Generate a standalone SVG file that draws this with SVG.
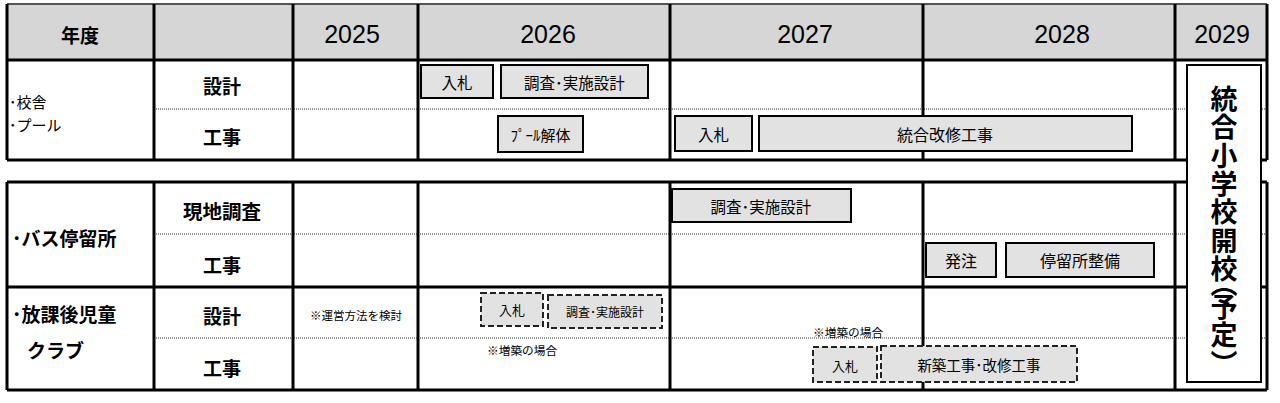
<svg xmlns="http://www.w3.org/2000/svg" width="1280" height="403" viewBox="0 0 1280 403">
<style>
.jp{font-family:"Noto Sans CJK JP","Noto Sans",sans-serif;fill:#000;dominant-baseline:central}
.num{font-family:"Liberation Sans",Arial,sans-serif;font-size:25px;fill:#000;text-anchor:middle;dominant-baseline:central}
.b{font-weight:700}
.c{text-anchor:middle}
.thick{stroke:#000;stroke-width:3;fill:none}
.dot{stroke:#333;stroke-width:1;stroke-dasharray:1 1;fill:none}
.box{fill:#e2e2e2;stroke:#000;stroke-width:2}
.dbox{fill:#e2e2e2;stroke:#222;stroke-width:2;stroke-dasharray:6 3}
</style>
<rect x="0" y="0" width="1280" height="403" fill="#fff"/>
<g id="header">
<rect x="7" y="4" width="1260" height="56" fill="#d6d6d6"/>
<text class="jp b c" x="80" y="34" font-size="19">年度</text>
<text class="num" x="352" y="34">2025</text>
<text class="num" x="548" y="34">2026</text>
<text class="num" x="805" y="34">2027</text>
<text class="num" x="1062" y="34">2028</text>
<text class="num" x="1222" y="34">2029</text>
</g>
<g id="grid">
<line x1="7" y1="4" x2="1267" y2="4" stroke="#555" stroke-width="2"/>
<line class="thick" x1="7" y1="60" x2="1267" y2="60"/>
<line class="thick" x1="7" y1="160" x2="1267" y2="160" stroke-width="3.5"/>
<line class="dot" x1="154" y1="109" x2="1267" y2="109"/>
<line class="thick" x1="7" y1="4" x2="7" y2="160"/>
<line class="thick" x1="154" y1="4" x2="154" y2="160"/>
<line class="thick" x1="293" y1="4" x2="293" y2="160"/>
<line class="thick" x1="418" y1="4" x2="418" y2="160"/>
<line class="thick" x1="670" y1="4" x2="670" y2="160"/>
<line class="thick" x1="923" y1="4" x2="923" y2="160"/>
<line class="thick" x1="1175" y1="4" x2="1175" y2="160"/>
<line class="thick" x1="1267" y1="4" x2="1267" y2="160"/>
<line class="thick" x1="7" y1="182" x2="1267" y2="182"/>
<line class="thick" x1="7" y1="287" x2="1267" y2="287"/>
<line class="thick" x1="7" y1="390" x2="1267" y2="390" stroke-width="3.5"/>
<line class="dot" x1="154" y1="234" x2="1267" y2="234"/>
<line class="dot" x1="154" y1="338" x2="1267" y2="338"/>
<line class="thick" x1="7" y1="182" x2="7" y2="390"/>
<line class="thick" x1="154" y1="182" x2="154" y2="390"/>
<line class="thick" x1="293" y1="182" x2="293" y2="390"/>
<line class="thick" x1="418" y1="182" x2="418" y2="390"/>
<line class="thick" x1="670" y1="182" x2="670" y2="390"/>
<line class="thick" x1="923" y1="182" x2="923" y2="390"/>
<line class="thick" x1="1175" y1="182" x2="1175" y2="390"/>
<line class="thick" x1="1267" y1="182" x2="1267" y2="390"/>
</g>
<g id="labels">
<text class="jp" x="9" y="101" font-size="15">･校舎</text>
<text class="jp" x="9" y="124" font-size="15">･プール</text>
<text class="jp b c" x="222" y="85" font-size="19">設計</text>
<text class="jp b c" x="222" y="136" font-size="19">工事</text>
<text class="jp b" x="12" y="237" font-size="19">･バス停留所</text>
<text class="jp b c" x="222" y="210" font-size="19.5">現地調査</text>
<text class="jp b c" x="222" y="264" font-size="19">工事</text>
<text class="jp b" font-size="19"><tspan x="12" y="313">･放課後児童</tspan><tspan x="27" y="349">クラブ</tspan></text>
<text class="jp b c" x="222" y="315" font-size="19">設計</text>
<text class="jp b c" x="222" y="367" font-size="19">工事</text>
</g>
<g id="school-design-bid">
<rect class="box" x="421" y="65" width="72" height="33"/>
<text class="jp c" x="457" y="81.5" font-size="15.5">入札</text>
</g>
<g id="school-design">
<rect class="box" x="501" y="65" width="147" height="33"/>
<text class="jp c" x="574.5" y="81.5" font-size="15.5">調査･実施設計</text>
</g>
<g id="pool-demolition">
<rect class="box" x="498" y="116" width="85" height="36"/>
<text class="jp c" x="540.5" y="134" font-size="15">ﾌﾟｰﾙ解体</text>
</g>
<g id="school-work-bid">
<rect class="box" x="675" y="116" width="77" height="35"/>
<text class="jp c" x="713.5" y="133.5" font-size="15.5">入札</text>
</g>
<g id="school-renovation">
<rect class="box" x="759" y="116" width="373" height="35"/>
<text class="jp c" x="945" y="133.5" font-size="16">統合改修工事</text>
</g>
<g id="bus-survey">
<rect class="box" x="672" y="189" width="179" height="33"/>
<text class="jp c" x="761" y="205.5" font-size="15.5">調査･実施設計</text>
</g>
<g id="bus-order">
<rect class="box" x="926" y="243" width="70" height="34"/>
<text class="jp c" x="961" y="260" font-size="16">発注</text>
</g>
<g id="bus-work">
<rect class="box" x="1006" y="243" width="148" height="34"/>
<text class="jp c" x="1080" y="260" font-size="16">停留所整備</text>
</g>
<g id="club-note">
<text class="jp c" x="356" y="315" font-size="11.5">※運営方法を検討</text>
</g>
<g id="club-design-bid">
<rect class="dbox" x="481" y="293" width="62" height="33"/>
<text class="jp c" x="512" y="309.5" font-size="13">入札</text>
</g>
<g id="club-design">
<rect class="dbox" x="548" y="295" width="114" height="33"/>
<text class="jp c" x="605" y="311.5" font-size="12">調査･実施設計</text>
</g>
<g id="club-note-2026">
<text class="jp" x="487" y="349" font-size="11.7">※増築の場合</text>
</g>
<g id="club-note-2027">
<text class="jp" x="813" y="331" font-size="11.7">※増築の場合</text>
</g>
<g id="club-work-bid">
<rect class="dbox" x="813" y="347" width="64" height="35"/>
<text class="jp c" x="845" y="365" font-size="13">入札</text>
</g>
<g id="club-work">
<rect class="dbox" x="881" y="346" width="196" height="36"/>
<text class="jp c" x="979" y="364" font-size="14.5">新築工事･改修工事</text>
</g>
<g id="opening">
<rect x="1187" y="65" width="74" height="317" fill="#fff" stroke="#000" stroke-width="2"/>
<text class="jp b" x="1224" y="85" font-size="27" letter-spacing="1.4" style="writing-mode:vertical-rl;dominant-baseline:auto">統合小学校開<tspan letter-spacing="-12.6">校</tspan><tspan letter-spacing="-3.6">（</tspan>予定）</text>
</g>
</svg>
